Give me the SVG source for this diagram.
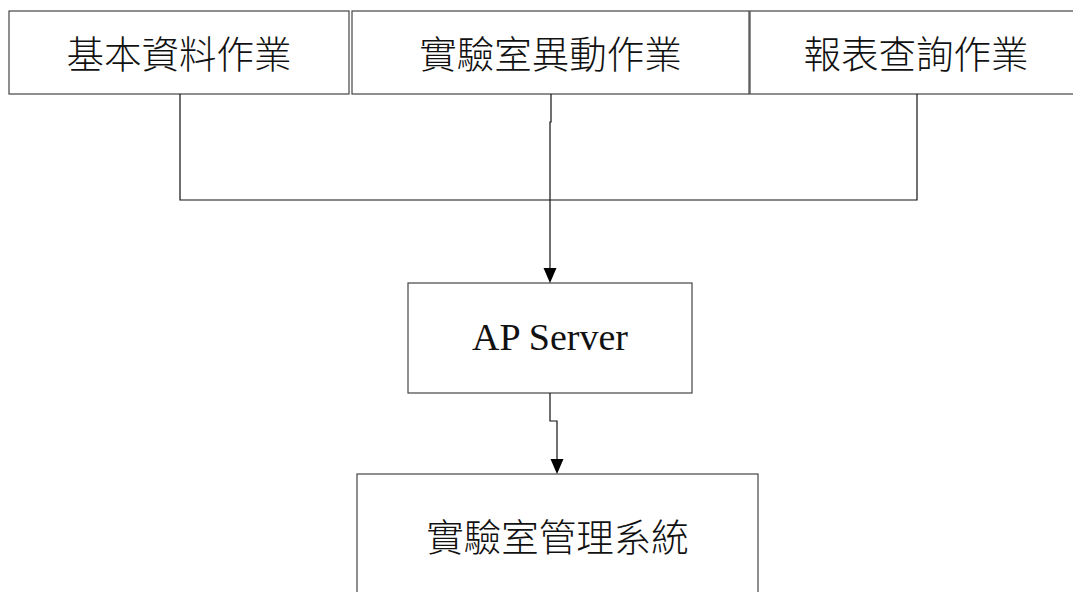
<svg xmlns="http://www.w3.org/2000/svg" width="1073" height="592" viewBox="0 0 1073 592">
<style>
.box{fill:#fff;stroke:#444;stroke-width:1.2}
.cjk{font-family:"Noto Sans CJK TC","Noto Sans CJK SC",sans-serif;font-size:37.5px;font-weight:300;fill:#111;text-anchor:middle}
.lat{font-family:"Liberation Serif",serif;font-size:38px;fill:#111;text-anchor:middle}
.ln{fill:none;stroke:#111;stroke-width:1.2}
.ah{fill:#000}
</style>
<rect width="1073" height="592" fill="#fff"/>
<g id="n1"><rect class="box" x="9" y="11" width="340" height="83"/><text class="cjk" x="179" y="68">基本資料作業</text></g>
<g id="n2"><rect class="box" x="352" y="11" width="397" height="83"/><text class="cjk" x="550.5" y="68">實驗室異動作業</text></g>
<g id="n3"><rect class="box" x="750" y="11" width="332" height="83"/><text class="cjk" x="916" y="68">報表查詢作業</text></g>
<g id="n4"><rect class="box" x="408" y="283" width="284" height="110"/><text class="lat" x="550" y="350">AP Server</text></g>
<g id="n5"><rect class="box" x="357" y="474" width="401" height="130"/><text class="cjk" x="557.5" y="551">實驗室管理系統</text></g>
<g id="connectors">
<polyline class="ln" points="180,94 180,200 917,200 917,94"/>
<polyline class="ln" points="551,94 551,122 550,122 550,268"/>
<path class="ah" d="M543.5,268 L556.5,268 L550,283 Z"/>
<polyline class="ln" points="550,393 550,421 557,421 557,459"/>
<path class="ah" d="M550.5,459 L563.5,459 L557,474 Z"/>
</g>
</svg>
